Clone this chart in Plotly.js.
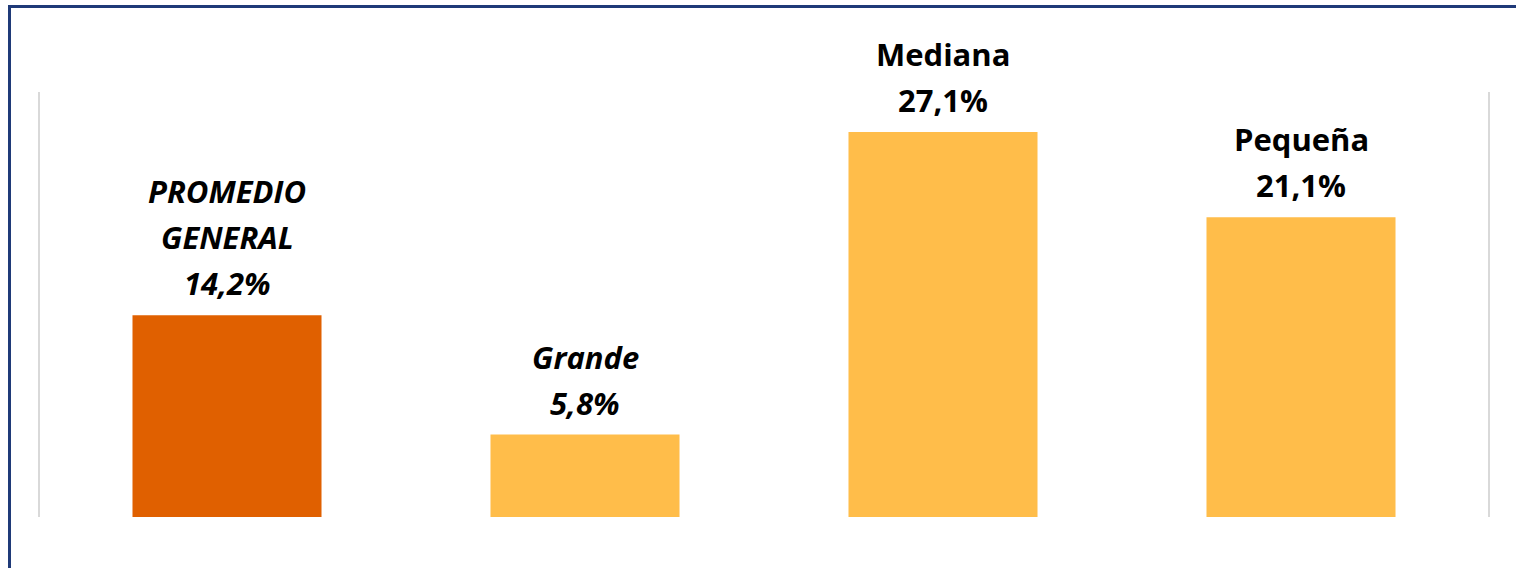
<!DOCTYPE html>
<html>
<head>
<meta charset="utf-8">
<script src="https://cdn.plot.ly/plotly-3.0.1.min.js"></script>
<style>
  html, body { margin: 0; padding: 0; background: #fff; }
  #chart { width: 1516px; height: 568px; }
</style>
</head>
<body>
<div id="chart"></div>
<script>
// ---- Data ----
const categories = ["PROMEDIO GENERAL", "Grande", "Mediana", "Pequeña"];
const values = [14.2, 5.8, 27.1, 21.1];
const nameLines = [["PROMEDIO", "GENERAL"], ["Grande"], ["Mediana"], ["Pequeña"]];
const italicLabel = [true, true, false, false];
const barColors = ["#E06000", "#FFBD4A", "#FFBD4A", "#FFBD4A"];

const fmt = v => v.toFixed(1).replace(".", ",") + "%";

const FONT = "'Open Sans', 'Liberation Sans', sans-serif";
const FS = 31;
const LINE = 46;
const FIRST = 32;

const annotations = [];
categories.forEach((c, i) => {
  const lines = nameLines[i].concat([fmt(values[i])]);
  const n = lines.length;
  lines.forEach((t, j) => {
    const fromBottom = n - 1 - j;
    annotations.push({
      x: c, y: values[i], xref: "x", yref: "y",
      text: italicLabel[i] ? "<i><b>" + t + "</b></i>" : "<b>" + t + "</b>",
      showarrow: false,
      xanchor: "center", yanchor: "middle",
      yshift: FIRST + fromBottom * LINE,
      font: { family: FONT, size: FS, color: "#000000" }
    });
  });
});

const trace = {
  type: "bar",
  x: categories,
  y: values,
  width: 0.528,
  marker: { color: barColors },
  hoverinfo: "skip"
};

const L = 48, PW = 1432;
const layout = {
  width: 1516, height: 568,
  margin: { l: L, r: 1516 - L - PW, t: 92, b: 51, pad: 0 },
  paper_bgcolor: "#ffffff",
  plot_bgcolor: "rgba(0,0,0,0)",
  showlegend: false,
  xaxis: {
    type: "category",
    range: [-0.5, 3.5],
    showticklabels: false, showgrid: false, zeroline: false, showline: false, ticks: ""
  },
  yaxis: {
    range: [0, 29.915],
    showticklabels: false, showgrid: false, zeroline: false, showline: false, ticks: ""
  },
  annotations: annotations,
  shapes: [
    { type: "line", xref: "paper", yref: "paper", x0: (39 - L) / PW, x1: (39 - L) / PW, y0: 0, y1: 1,
      line: { color: "#d9d9d9", width: 2 }, layer: "above" },
    { type: "line", xref: "paper", yref: "paper", x0: (1489 - L) / PW, x1: (1489 - L) / PW, y0: 0, y1: 1,
      line: { color: "#d9d9d9", width: 2 }, layer: "above" },
    { type: "rect", xref: "paper", yref: "paper",
      x0: (9.5 - L) / PW, x1: 1.05, y0: -0.3, y1: (517 - 6.5) / 425,
      line: { color: "#1F3A78", width: 3 }, fillcolor: "rgba(0,0,0,0)", layer: "above" }
  ]
};

Plotly.newPlot("chart", [trace], layout, { displayModeBar: false, staticPlot: true });
</script>
</body>
</html>
